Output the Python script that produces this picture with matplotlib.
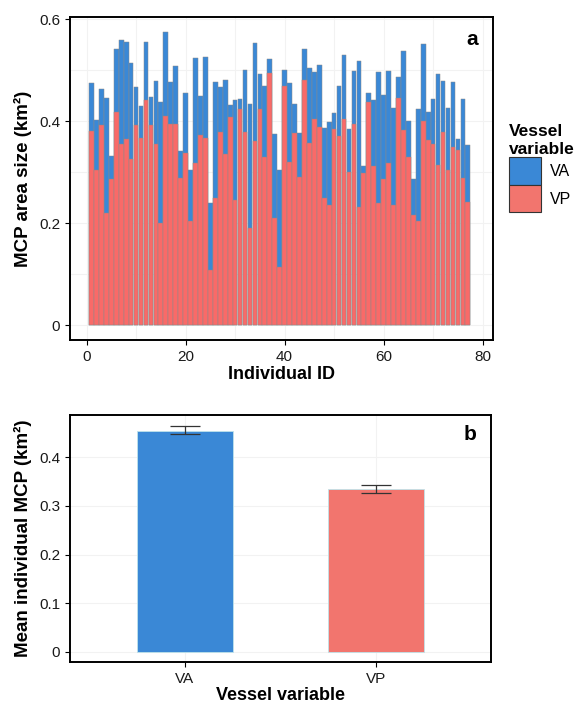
import matplotlib
matplotlib.use("Agg")
import matplotlib.pyplot as plt
from matplotlib.patches import Patch
import numpy as np

plt.rcParams['font.family'] = ['Liberation Sans', 'DejaVu Sans']

# Panel a: MCP area size per individual, two vessel variables (overlapping bars)
individual_id = np.arange(1, 78)
va_area = [0.475, 0.402, 0.462, 0.446, 0.332, 0.542, 0.559, 0.556, 0.513, 0.466,
           0.430, 0.556, 0.448, 0.479, 0.438, 0.575, 0.476, 0.508, 0.342, 0.456,
           0.305, 0.524, 0.450, 0.526, 0.239, 0.477, 0.467, 0.480, 0.431, 0.441,
           0.444, 0.500, 0.433, 0.553, 0.493, 0.469, 0.522, 0.375, 0.304, 0.501,
           0.475, 0.433, 0.376, 0.542, 0.505, 0.496, 0.509, 0.386, 0.398, 0.416,
           0.469, 0.529, 0.384, 0.498, 0.518, 0.312, 0.456, 0.442, 0.497, 0.452,
           0.499, 0.425, 0.486, 0.538, 0.401, 0.286, 0.423, 0.551, 0.417, 0.443,
           0.492, 0.479, 0.426, 0.476, 0.365, 0.444, 0.354]
vp_area = [0.380, 0.305, 0.392, 0.219, 0.286, 0.417, 0.356, 0.364, 0.325, 0.392,
           0.367, 0.441, 0.392, 0.356, 0.201, 0.410, 0.395, 0.395, 0.288, 0.338,
           0.205, 0.317, 0.373, 0.366, 0.108, 0.250, 0.378, 0.335, 0.408, 0.246,
           0.423, 0.379, 0.191, 0.361, 0.423, 0.330, 0.495, 0.211, 0.114, 0.469,
           0.319, 0.376, 0.291, 0.480, 0.358, 0.405, 0.388, 0.250, 0.235, 0.384,
           0.371, 0.405, 0.301, 0.395, 0.232, 0.299, 0.438, 0.312, 0.240, 0.287,
           0.317, 0.235, 0.446, 0.382, 0.330, 0.216, 0.205, 0.401, 0.363, 0.356,
           0.314, 0.378, 0.304, 0.350, 0.343, 0.289, 0.241]

# Panel b: mean individual MCP with error bars
vessel_var = ["VA", "VP"]
mean_mcp = [0.455, 0.335]
err_low = [0.447, 0.326]
err_high = [0.464, 0.344]

blue = "#3A88D6"
red_a = "#F96A68"
red_b = "#F2756E"
grid_col = "#F2F2F2"

fig = plt.figure(figsize=(5.76, 7.03), dpi=100)
ax1 = fig.add_axes([0.1215, 0.5164, 0.856 - 0.1215, 0.9758 - 0.5164])
ax2 = fig.add_axes([0.1215, 0.0583, 0.8524 - 0.1215, 0.4097 - 0.0583])


def style_axes(ax):
    for s in ax.spines.values():
        s.set_linewidth(1.4)
        s.set_color("black")
    ax.tick_params(direction="out", length=3.5, width=0.8, colors="black",
                   labelsize=11, labelcolor="#1a1a1a")
    ax.set_axisbelow(True)


# --- panel a ---
ax1.bar(individual_id, va_area, width=0.95, color=blue, edgecolor="#8a8a8a",
        linewidth=0.35, zorder=2)
ax1.bar(individual_id, vp_area, width=0.95, color=red_a, edgecolor="#8a8a8a",
        linewidth=0.35, zorder=3)
ax1.set_xlim(-3.35, 82.1)
ax1.set_ylim(-0.029, 0.604)
ax1.set_xticks([0, 20, 40, 60, 80])
ax1.set_yticks([0, 0.2, 0.4, 0.6])
ax1.set_yticklabels(["0", "0.2", "0.4", "0.6"])
ax1.set_xticks([10, 30, 50, 70], minor=True)
ax1.set_yticks([0.1, 0.3, 0.5], minor=True)
ax1.tick_params(which="minor", length=0)
ax1.grid(True, which="both", color=grid_col, linewidth=0.8)
style_axes(ax1)
ax1.set_xlabel("Individual ID", fontsize=13, fontweight="bold", labelpad=2)
ax1.set_ylabel("MCP area size (km²)", fontsize=13.5, fontweight="bold", labelpad=5)
ax1.text(0.965, 0.96, "a", transform=ax1.transAxes, ha="right", va="top",
         fontsize=15, fontweight="bold")

handles = [Patch(facecolor=blue, edgecolor="#333333", linewidth=0.8, label="VA"),
           Patch(facecolor=red_b, edgecolor="#333333", linewidth=0.8, label="VP")]
leg = fig.legend(handles=handles, title="Vessel\nvariable", loc="upper left",
                 bbox_to_anchor=(0.872, 0.832), frameon=False, fontsize=11.5,
                 handlelength=2.0, handleheight=2.3, labelspacing=0.0,
                 handletextpad=0.6, borderaxespad=0, alignment="left")
leg.get_title().set_fontweight("bold")
leg.get_title().set_fontsize(12.5)

# --- panel b ---
xpos = np.arange(1, len(vessel_var) + 1)
ax2.bar(xpos, mean_mcp, width=0.5, color=[blue, red_b], edgecolor="#bfe3ea",
        linewidth=0.6, zorder=2)
yerr = [np.array(mean_mcp) - np.array(err_low), np.array(err_high) - np.array(mean_mcp)]
ax2.errorbar(xpos, mean_mcp, yerr=yerr, fmt="none", ecolor="#333333",
             elinewidth=0.9, capsize=10.8, capthick=0.9, zorder=3)
ax2.set_xlim(0.4, 2.6)
ax2.set_ylim(-0.021, 0.487)
ax2.set_xticks(xpos)
ax2.set_xticklabels(vessel_var)
ax2.set_yticks([0, 0.1, 0.2, 0.3, 0.4])
ax2.set_yticklabels(["0", "0.1", "0.2", "0.3", "0.4"])
ax2.grid(True, color=grid_col, linewidth=0.8)
style_axes(ax2)
ax2.set_xlabel("Vessel variable", fontsize=13, fontweight="bold", labelpad=1)
ax2.set_ylabel("Mean individual MCP (km²)", fontsize=13.5, fontweight="bold", labelpad=5)
ax2.text(0.965, 0.96, "b", transform=ax2.transAxes, ha="right", va="top",
         fontsize=15, fontweight="bold")

fig.savefig("out.png", dpi=100)
